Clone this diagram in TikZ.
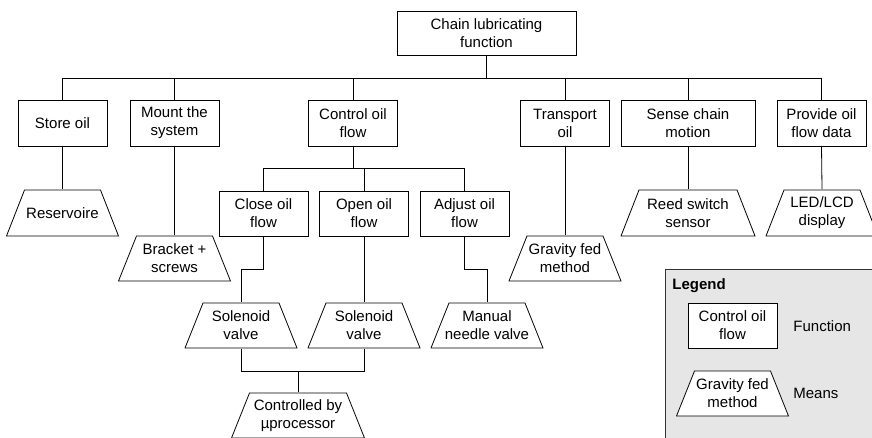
\documentclass[tikz,border=0pt]{standalone}
\usepackage{fontspec}
\setmainfont{Liberation Sans}
\usepackage{xcolor}
\usepackage{tikz}
\definecolor{legendgray}{RGB}{230,230,230}
\newcommand{\chartfont}{\fontsize{15}{18}\selectfont}
\tikzset{
  funcbox/.style={draw, rectangle, fill=white, minimum width=89pt, minimum height=46pt, inner sep=0pt, align=center, font=\chartfont},
  meansbox/.style={rectangle, minimum width=113pt, minimum height=46pt, inner sep=0pt, align=center, font=\chartfont,
    path picture={\draw[fill=white] ([shift={(0.5pt,0.5pt)}]path picture bounding box.south west)
      -- ([shift={(18.5pt,-0.5pt)}]path picture bounding box.north west)
      -- ([shift={(-18.5pt,-0.5pt)}]path picture bounding box.north east)
      -- ([shift={(-0.5pt,0.5pt)}]path picture bounding box.south east) -- cycle;}},
  keytext/.style={anchor=west, inner sep=0pt, font=\chartfont}
}

\begin{document}
\begin{tikzpicture}[x=1pt, y=-1pt, line width=0.8pt]
\useasboundingbox (0,0) rectangle (872,438);
\clip (0,0) rectangle (872,438);
\node[draw=black!80, fill=legendgray, minimum width=220pt, minimum height=185pt, anchor=north west] (legend) at (665,269) {};
\node[keytext, font=\chartfont\bfseries] (legendtitle) at (672,286) {Legend};
\node[funcbox, minimum height=45pt] (keyfunc) at (732.5,325.5) {Control oil\\flow};
\node[keytext] (keyfunclabel) at (793,326) {Function};
\node[meansbox] (keymeans) at (732.5,393.5) {Gravity fed\\method};
\node[keytext] (keymeanslabel) at (793,393.5) {Means};

\node[funcbox, minimum width=179pt, minimum height=44pt] (chain) at (486.5,33) {Chain lubricating\\function};
\node[funcbox] (store) at (62.5,123) {Store oil};
\node[funcbox] (mount) at (174.5,123) {Mount the\\system};
\node[funcbox] (control) at (353,123) {Control oil\\flow};
\node[funcbox] (transport) at (565,123) {Transport\\oil};
\node[funcbox, minimum width=134pt] (sense) at (688,123) {Sense chain\\motion};
\node[funcbox] (provide) at (821.5,123) {Provide oil\\flow data};
\node[funcbox, minimum height=45pt] (close) at (263.5,213.5) {Close oil\\flow};
\node[funcbox, minimum height=45pt] (open) at (364,213.5) {Open oil\\flow};
\node[funcbox, minimum height=45pt] (adjust) at (464.5,213.5) {Adjust oil\\flow};

\node[meansbox, minimum height=47pt] (reservoire) at (62.5,213) {Reservoire};
\node[meansbox] (bracket) at (174.5,258.5) {Bracket +\\screws};
\node[meansbox] (gravity) at (565,258.5) {Gravity fed\\method};
\node[meansbox, minimum width=135pt, minimum height=47pt] (reed) at (688,213) {Reed switch\\sensor};
\node[meansbox, minimum height=47pt] (led) at (822,213) {LED/LCD\\display};
\node[meansbox] (solclose) at (241,325.5) {Solenoid\\valve};
\node[meansbox] (solopen) at (364,325.5) {Solenoid\\valve};
\node[meansbox] (needle) at (487,325.5) {Manual\\needle valve};
\node[meansbox, minimum width=134pt] (micro) at (298,415.5) {Controlled by\\µprocessor};

\coordinate (topbus) at (0,78);
\coordinate (subbus) at (0,168);
\coordinate (jog) at (0,269);
\coordinate (valvebus) at (0,371);

\draw (chain.south) -- (chain.south |- topbus);
\draw (store.north) -- (store.north |- topbus) -- (provide.north |- topbus) -- (provide.north);
\draw (mount.north) -- (mount.north |- topbus);
\draw (control.north) -- (control.north |- topbus);
\draw (transport.north) -- (transport.north |- topbus);
\draw (sense.north) -- (sense.north |- topbus);

\draw (store.south) -- (reservoire.north);
\draw (mount.south) -- (bracket.north);
\draw (transport.south) -- (gravity.north);
\draw (sense.south) -- (reed.north);
\draw (provide.south) -- (led.north);

\draw (control.south) -- (control.south |- subbus);
\draw (close.north) -- (close.north |- subbus) -- (adjust.north |- subbus) -- (adjust.north);
\draw (open.north) -- (open.north |- subbus);

\draw (close.south) -- (close.south |- jog) -| (solclose.north);
\draw (open.south) -- (solopen.north);
\draw (adjust.south) -- (adjust.south |- jog) -| (needle.north);

\draw (solclose.south) -- (solclose.south |- valvebus) -- (solopen.south |- valvebus) -- (solopen.south);
\draw (micro.north) -- (micro.north |- valvebus);
\end{tikzpicture}
\end{document}
